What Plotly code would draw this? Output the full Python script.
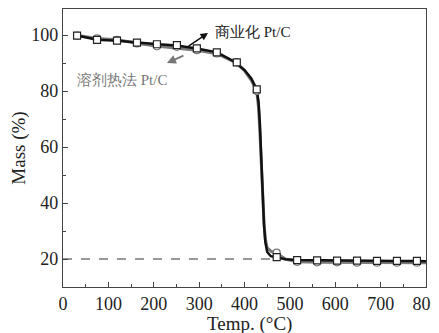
import plotly.graph_objects as go

# Commercial Pt/C (black, squares)
temp_com = [25, 75, 120, 165, 210, 250, 295, 340, 380, 400, 415, 427, 431, 434, 437, 440, 443, 446, 450, 458, 471, 490, 516, 560, 604, 648, 692, 736, 780, 800]
mass_com = [100, 98.3, 98.0, 97.3, 96.7, 96.3, 95.2, 93.8, 90.3, 87.5, 84.5, 80.6, 76, 68, 56, 43, 32, 26, 22.5, 21.0, 20.6, 19.9, 19.6, 19.5, 19.4, 19.4, 19.3, 19.3, 19.3, 19.2]
mtemp_com = [31, 75, 119, 163, 207, 251, 295, 339, 383, 427, 471, 516, 560, 604, 648, 692, 736, 780]
mmass_com = [99.8, 98.3, 98.0, 97.3, 96.7, 96.4, 95.2, 93.8, 90.2, 80.6, 20.7, 19.6, 19.5, 19.4, 19.4, 19.3, 19.3, 19.3]

# Solvothermal Pt/C (gray, circles)
temp_sol = [25, 75, 120, 165, 210, 250, 295, 340, 380, 400, 415, 427, 431, 434, 437, 440, 443, 446, 450, 458, 471, 490, 516, 560, 604, 648, 692, 736, 780, 800]
mass_sol = [100, 98.8, 98.3, 97.0, 96.0, 95.4, 94.6, 93.3, 90.2, 87.3, 83.8, 80.0, 74, 65, 54, 42, 33, 27, 24, 22.8, 22.0, 20.0, 19.0, 18.8, 18.8, 18.7, 18.7, 18.7, 18.7, 18.7]
mtemp_sol = [31, 75, 119, 163, 207, 251, 295, 339, 383, 427, 471, 516, 560, 604, 648, 692, 736, 780]
mmass_sol = [99.8, 98.8, 98.3, 97.0, 96.0, 95.8, 94.6, 93.4, 90.2, 80.0, 22.3, 19.0, 18.8, 18.8, 18.7, 18.7, 18.7, 18.7]

ref_temp = [0, 471]
ref_mass = [20, 20]

x_ticks = [0, 100, 200, 300, 400, 500, 600, 700, 800]
y_ticks = [20, 40, 60, 80, 100]

label_com = "商业化 Pt/C"
label_sol = "溶剂热法 Pt/C"
x_title = "Temp. (°C)"
y_title = "Mass (%)"

fig = go.Figure()
fig.add_trace(go.Scatter(x=ref_temp, y=ref_mass, mode="lines",
                         line=dict(color="#333", width=1, dash="dash"), showlegend=False))
fig.add_trace(go.Scatter(x=temp_sol, y=mass_sol, mode="lines",
                         line=dict(color="#7a7a7a", width=3), showlegend=False))
fig.add_trace(go.Scatter(x=temp_com, y=mass_com, mode="lines",
                         line=dict(color="#111", width=2.5), showlegend=False))
fig.add_trace(go.Scatter(x=mtemp_sol, y=mmass_sol, mode="markers",
                         marker=dict(symbol="circle", size=7, color="white",
                                     line=dict(color="#777", width=1.2)), showlegend=False))
fig.add_trace(go.Scatter(x=mtemp_com, y=mmass_com, mode="markers",
                         marker=dict(symbol="square", size=7, color="white",
                                     line=dict(color="#222", width=1.2)), showlegend=False))

serif = "Liberation Serif"

fig.add_annotation(x=319.6, y=100.7, ax=-21, ay=14, text="", showarrow=True,
                   arrowhead=2, arrowsize=1, arrowwidth=1.5, arrowcolor="#111")
fig.add_annotation(x=229, y=90, ax=18, ay=-8, text="", showarrow=True,
                   arrowhead=2, arrowsize=1, arrowwidth=1.8, arrowcolor="#777")
fig.add_annotation(x=331, y=101, text=label_com, showarrow=False, xanchor="left",
                   yanchor="middle", font=dict(family=serif, size=15, color="#222"))
fig.add_annotation(x=26, y=84, text=label_sol, showarrow=False, xanchor="left",
                   yanchor="middle", font=dict(family=serif, size=15, color="#777"))
# x-axis title placed below tick labels
fig.add_annotation(x=410, xref="x", y=-0.134, yref="paper", text=x_title, showarrow=False,
                   xanchor="center", yanchor="middle",
                   font=dict(family=serif, size=19, color="#222"))

axis_common = dict(showline=True, linecolor="#444", linewidth=1.2, mirror=True,
                   ticks="inside", tickcolor="#444", ticklen=5, showgrid=False,
                   zeroline=False, automargin=False,
                   tickfont=dict(family=serif, size=18, color="#222"))

fig.update_xaxes(range=[0, 800], tickvals=x_ticks, ticklabeloverflow="allow",
                 minor=dict(ticks="inside", dtick=50, ticklen=3, tickcolor="#444"),
                 **axis_common)
fig.update_yaxes(range=[10, 109.3], tickvals=y_ticks,
                 minor=dict(ticks="inside", dtick=10, ticklen=3, tickcolor="#444"),
                 title=dict(text=y_title, font=dict(family=serif, size=19, color="#222"), standoff=4),
                 **axis_common)

# page body has an 8px default margin, so the figure is 8px smaller and offset
fig.update_layout(width=431, height=325, margin=dict(l=55, r=13, t=1, b=46),
                  plot_bgcolor="white", paper_bgcolor="white")

fig.write_html("out.html")
